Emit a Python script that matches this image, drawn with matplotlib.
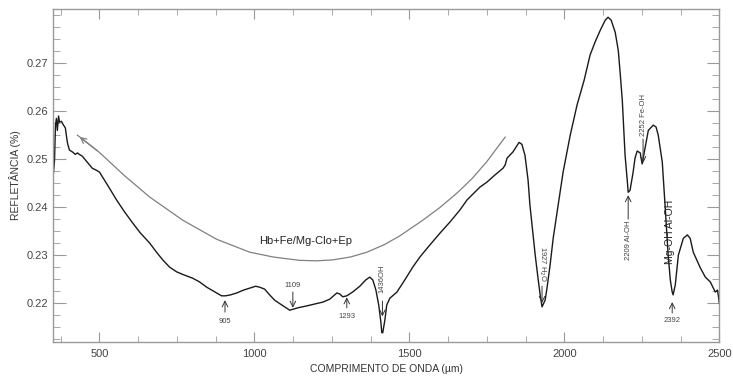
import matplotlib.pyplot as plt
from matplotlib.ticker import MultipleLocator

plt.rcParams['font.family'] = ['Liberation Sans', 'DejaVu Sans']

# spectrum (wavelength, reflectance)
wl = [350, 355, 358, 361, 364, 368, 371, 377, 384, 390, 393, 397, 403, 413, 422, 429,
      435, 445, 455, 468, 477, 490, 500, 526, 555, 581, 607, 632, 662, 684, 704, 726,
      749, 775, 800, 823, 846, 862, 878, 894, 907, 923, 943, 965, 985, 1004, 1017, 1033,
      1049, 1065, 1088, 1114, 1140, 1169, 1195, 1221, 1243, 1266, 1275, 1285, 1298, 1317,
      1340, 1359, 1372, 1382, 1392, 1401, 1408, 1411, 1414, 1421, 1427, 1437, 1460, 1485,
      1511, 1534, 1566, 1599, 1631, 1663, 1686, 1708, 1728, 1750, 1776, 1802, 1809, 1815,
      1834, 1844, 1854, 1863, 1873, 1883, 1889, 1899, 1906, 1915, 1922, 1928, 1938, 1944,
      1954, 1964, 1980, 1996, 2019, 2041, 2064, 2083, 2099, 2116, 2132, 2141, 2151, 2164,
      2174, 2180, 2187, 2196, 2203, 2206, 2212, 2222, 2228, 2235, 2245, 2251, 2261, 2271,
      2287, 2296, 2303, 2316, 2325, 2335, 2342, 2348, 2351, 2358, 2368, 2384, 2397, 2406,
      2416, 2439, 2455, 2471, 2481, 2487, 2494, 2497, 2500]
refl = [0.2460, 0.2498, 0.2571, 0.2585, 0.2560, 0.2590, 0.2577, 0.2579, 0.2571, 0.2565,
        0.2550, 0.2533, 0.2519, 0.2515, 0.2510, 0.2513, 0.2510, 0.2506, 0.2498, 0.2488,
        0.2481, 0.2477, 0.2473, 0.2446, 0.2415, 0.2390, 0.2367, 0.2346, 0.2325, 0.2306,
        0.2290, 0.2275, 0.2265, 0.2258, 0.2252, 0.2244, 0.2233, 0.2227, 0.2221, 0.2215,
        0.2215, 0.2217, 0.2221, 0.2227, 0.2231, 0.2235, 0.2233, 0.2229, 0.2217, 0.2206,
        0.2196, 0.2185, 0.2190, 0.2194, 0.2198, 0.2202, 0.2208, 0.2221, 0.2219, 0.2213,
        0.2215, 0.2223, 0.2235, 0.2248, 0.2254, 0.2248, 0.2227, 0.2196, 0.2160, 0.2138,
        0.2138, 0.2165, 0.2196, 0.2210, 0.2223, 0.2248, 0.2275, 0.2296, 0.2321, 0.2346,
        0.2369, 0.2394, 0.2415, 0.2429, 0.2442, 0.2452, 0.2467, 0.2481, 0.2488, 0.2502,
        0.2515, 0.2525, 0.2535, 0.2531, 0.2508, 0.2456, 0.2404, 0.2342, 0.2300, 0.2252,
        0.2217, 0.2192, 0.2206, 0.2231, 0.2279, 0.2335, 0.2404, 0.2473, 0.2550, 0.2613,
        0.2665, 0.2717, 0.2744, 0.2769, 0.2790, 0.2796, 0.2790, 0.2765, 0.2727, 0.2681,
        0.2623, 0.2508, 0.2456, 0.2431, 0.2435, 0.2473, 0.2502, 0.2517, 0.2513, 0.2490,
        0.2525, 0.2560, 0.2571, 0.2567, 0.2550, 0.2494, 0.2404, 0.2300, 0.2248, 0.2223,
        0.2217, 0.2238, 0.2300, 0.2335, 0.2342, 0.2335, 0.2306, 0.2273, 0.2254, 0.2244,
        0.2231, 0.2223, 0.2227, 0.2215, 0.2200]

# gray envelope curve
hull_wl = [429, 500, 580, 662, 768, 878, 985, 1060, 1146, 1200, 1253, 1310, 1363, 1420,
           1469, 1544, 1600, 1653, 1700, 1750, 1809]
hull_r = [0.2550, 0.2514, 0.2466, 0.2421, 0.2373, 0.2333, 0.2306, 0.2296, 0.2289, 0.2288,
          0.2290, 0.2296, 0.2306, 0.2322, 0.2340, 0.2373, 0.2400, 0.2429, 0.2458, 0.2495,
          0.2546]

fig = plt.figure(figsize=(7.33, 3.79), dpi=100)
ax = fig.add_axes([0.0723, 0.098, 0.909, 0.878])

ax.plot(wl, refl, color='#1a1a1a', lw=1.0)
ax.plot(hull_wl, hull_r, color='#808080', lw=0.9)
ax.annotate('', xy=(hull_wl[0], hull_r[0]), xytext=(hull_wl[1], hull_r[1]),
            arrowprops=dict(arrowstyle='->', color='#808080', lw=0.9))

ax.text(1165, 0.2330, 'Hb+Fe/Mg-Clo+Ep', fontsize=8, color='#222', ha='center', va='center')

small = dict(fontsize=5.5, color='#444', ha='center', va='center')
arr = dict(arrowstyle='->', color='#333', lw=0.7, shrinkA=0, shrinkB=0)

# labelled absorption features
ax.annotate('', xy=(905, 0.2206), xytext=(905, 0.2181), arrowprops=arr)
ax.text(905, 0.2162, '905', **small)
ax.annotate('', xy=(1124, 0.2190), xytext=(1124, 0.2223), arrowprops=arr)
ax.text(1124, 0.2236, '1109', **small)
ax.annotate('', xy=(1298, 0.2212), xytext=(1298, 0.2190), arrowprops=arr)
ax.text(1298, 0.2171, '1293', **small)
ax.text(1413, 0.2250, '1436OH', rotation=90, **small)
ax.annotate('', xy=(1413, 0.2172), xytext=(1413, 0.2204), arrowprops=arr)
ax.text(1928, 0.2281, '1927 H$_2$O', rotation=-90, **small)
ax.annotate('', xy=(1928, 0.2200), xytext=(1928, 0.2235), arrowprops=arr)
ax.text(2206, 0.2331, '2209 Al-OH', rotation=90, **small)
ax.annotate('', xy=(2206, 0.2425), xytext=(2206, 0.2375), arrowprops=arr)
ax.text(2254, 0.2592, '2252 Fe-OH', rotation=90, **small)
ax.annotate('', xy=(2254, 0.2492), xytext=(2254, 0.2542), arrowprops=arr)
ax.text(2342, 0.2348, 'Mg-OH Al-OH', rotation=90, fontsize=7.5, color='#222',
        ha='center', va='center')
ax.annotate('', xy=(2348, 0.2202), xytext=(2348, 0.2179), arrowprops=arr)
ax.text(2348, 0.2163, '2392', **small)

ax.set_xlim(350, 2500)
ax.set_ylim(0.2119, 0.2813)
ax.xaxis.set_major_locator(MultipleLocator(500))
ax.xaxis.set_minor_locator(MultipleLocator(125))
ax.yaxis.set_major_locator(MultipleLocator(0.01))
ax.yaxis.set_minor_locator(MultipleLocator(0.0025))
ax.yaxis.set_major_formatter(plt.FormatStrFormatter('%.2f'))
ax.set_yticks([0.22, 0.23, 0.24, 0.25, 0.26, 0.27])

for s in ax.spines.values():
    s.set_color('#999')
    s.set_linewidth(1.0)
ax.tick_params(axis='both', which='both', direction='in', top=True, right=True,
               colors='#999', labelcolor='#444', labelsize=8)
ax.tick_params(axis='y', which='major', length=9)
ax.tick_params(axis='y', which='minor', length=5)
ax.tick_params(axis='x', which='major', length=7, pad=5)
ax.tick_params(axis='x', which='minor', length=4)

ax.set_xlabel('COMPRIMENTO DE ONDA (µm)', fontsize=7.5, color='#333', labelpad=4)
ax.set_ylabel('REFLETÂNCIA (%)', fontsize=7.5, color='#333', labelpad=4)

fig.savefig('out.png', dpi=100)
